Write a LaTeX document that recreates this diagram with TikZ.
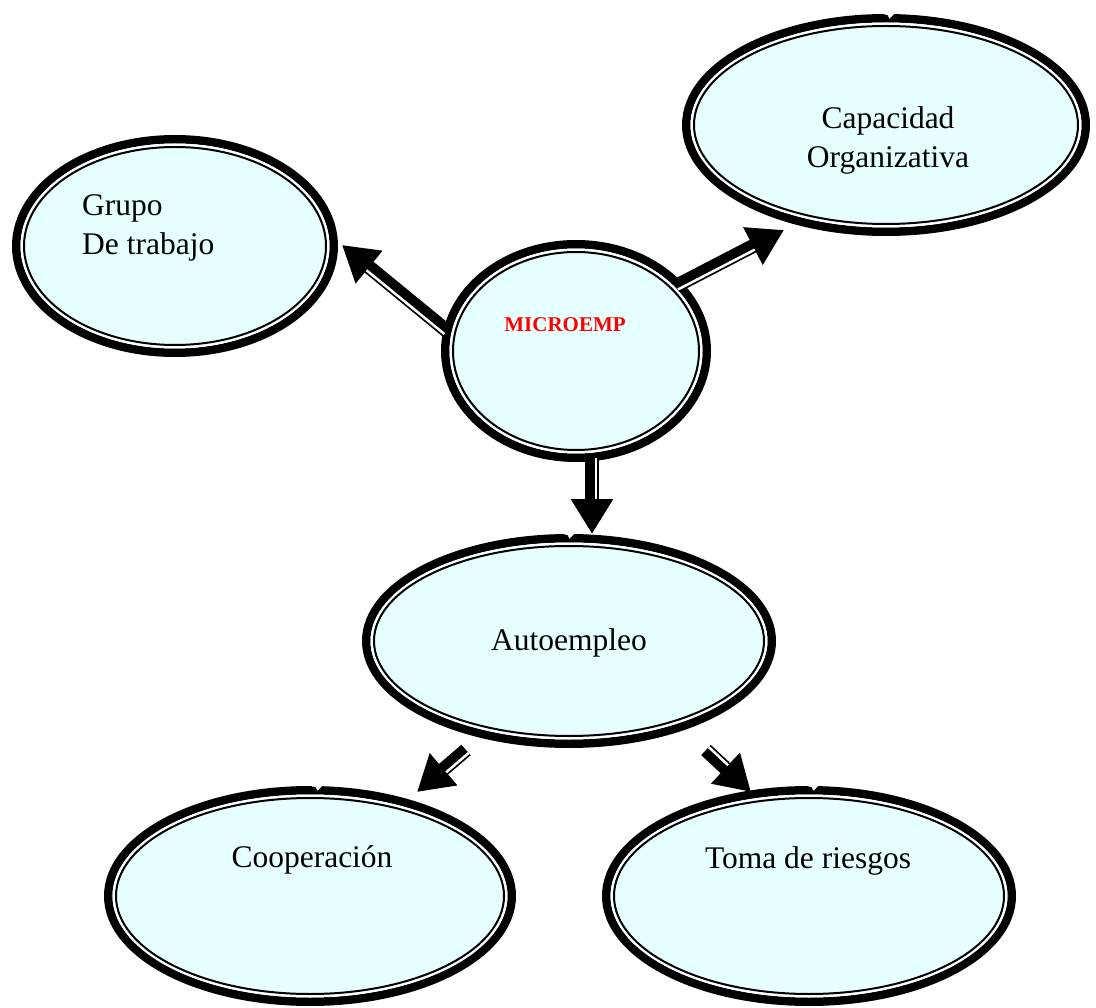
\documentclass[tikz,border=0pt]{standalone}
\usepackage{fontspec}
\setmainfont{Liberation Serif}
\usetikzlibrary{shapes.geometric,arrows.meta,calc}
\definecolor{bubblefill}{RGB}{230,255,255}
\definecolor{titlered}{RGB}{255,0,0}

% bubble: name, centre x, centre y, x radius, y radius
\newcommand\bubble[5]{%
  \fill[bubblefill] (#2,#3) ellipse [x radius=#4-4, y radius=#5-4];
  \draw[line width=8.5] (#2,#3) ellipse [x radius=#4-4.25, y radius=#5-4.25];
  \draw[white, line width=2.5] (#2,#3) ellipse [x radius=#4-9.75, y radius=#5-9.75];
  \draw[line width=2] (#2,#3) ellipse [x radius=#4-12, y radius=#5-12];
  \node[ellipse, inner sep=0, minimum width=2*#4, minimum height=2*#5] (#1) at (#2,#3) {};
}
% small fold in the top rim of a bubble: x, top y
\newcommand\fold[2]{%
  \fill[white] (#1-7,#2-1) -- (#1+5,#2-1) -- (#1-1,#2+5) -- cycle;
  \draw[line width=1.6] (#1-9,#2+5) .. controls (#1-6,#2) and (#1-2,#2+1) .. (#1-2,#2+4)
    .. controls (#1-2,#2+7) and (#1+3,#2+6) .. (#1+5,#2+3);
}
% thick arrow with a thin white stripe: start, tip, side (+90 or -90)
\newcommand\fatarrow[3]{%
  \draw[line width=14, -{Triangle[length=35pt,width=40pt]}] (#1) -- (#2);
  \draw[white, line width=2.5]
    ($(#1)!4pt!#3:(#2)$) -- ($($(#2)!35pt!(#1)$)!4pt!#3:(#2)$);
}

\tikzset{
  label text/.style={font=\fontsize{31.5}{39}\selectfont, inner sep=0},
  title text/.style={font=\fontsize{21}{25}\selectfont\bfseries, text=titlered, inner sep=0}
}

\begin{document}
\begin{tikzpicture}[x=1pt,y=-1pt]
\useasboundingbox (0,0) rectangle (1096,1008);

% bubbles
\bubble{grupo}{175}{246}{163}{111}
\bubble{capac}{886}{125}{204}{111}
\bubble{micro}{576}{351}{135}{111}
\bubble{auto}{569}{641}{207}{107}
\bubble{coop}{310}{896}{206}{110}
\bubble{toma}{809}{896}{207}{110}

% folds in the rims
\fold{890}{14}
\fold{570}{534}
\fold{318}{786}
\fold{814}{786}

% texts
\node[label text, anchor=west, align=left] (tgrupo) at (82,228) {Grupo\\De trabajo};
\node[label text, align=center] (tcapac) at (888,140) {Capacidad\\Organizativa};
\node[title text] (tmicro) at (565,325) {MICROEMP};
\node[label text] (tauto) at (569,643) {Autoempleo};
\node[label text] (tcoop) at (312,860) {Cooperación};
\node[label text] (ttoma) at (808,861) {Toma de riesgos};

% arrow end points
\coordinate (g-s) at (447,331);  \coordinate (g-t) at (342,245);
\coordinate (c-s) at (676,286);  \coordinate (c-t) at (784,230);
\coordinate (a-s) at (592,458);  \coordinate (a-t) at (592,534);
\coordinate (k-s) at (466,750);  \coordinate (k-t) at (417,792);
\coordinate (r-s) at (706,750);  \coordinate (r-t) at (751,792);

\fatarrow{g-s}{g-t}{90}
\fatarrow{c-s}{c-t}{-90}
\fatarrow{a-s}{a-t}{90}
\fatarrow{k-s}{k-t}{90}
\fatarrow{r-s}{r-t}{90}
\end{tikzpicture}
\end{document}
